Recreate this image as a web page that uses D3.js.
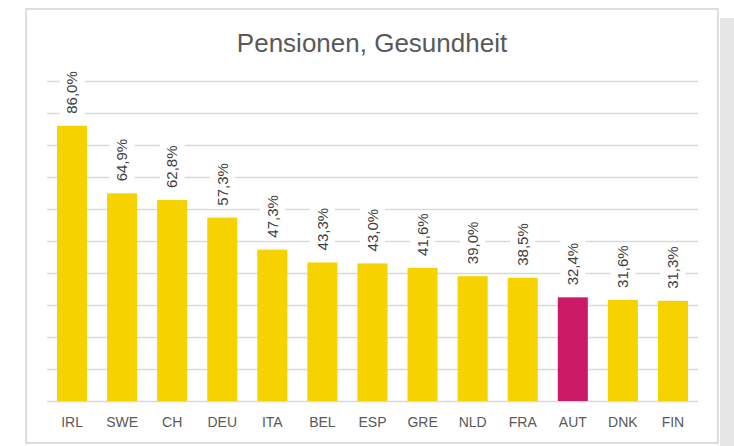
<!DOCTYPE html>
<html>
<head>
<meta charset="utf-8">
<script src="https://cdn.jsdelivr.net/npm/d3@7/dist/d3.min.js"></script>
<style>
  html, body { margin: 0; padding: 0; background: #ffffff; }
  svg { display: block; }
  text { font-family: "Liberation Sans", Arial, sans-serif; }
</style>
</head>
<body>
<svg id="chart" width="734" height="446"></svg>
<script>
const title = "Pensionen, Gesundheit";
const categories = ["IRL", "SWE", "CH", "DEU", "ITA", "BEL", "ESP", "GRE", "NLD", "FRA", "AUT", "DNK", "FIN"];
const values = [86.0, 64.9, 62.8, 57.3, 47.3, 43.3, 43.0, 41.6, 39.0, 38.5, 32.4, 31.6, 31.3];
const highlight = ["AUT"];
const gridTicks = [0, 10, 20, 30, 40, 50, 60, 70, 80, 90, 100];

const svg = d3.select("#chart");

// shadow + frame
svg.append("rect").attr("x", 720).attr("y", 18).attr("width", 14).attr("height", 428).attr("fill", "#e6e6e6");
svg.append("rect").attr("x", 26).attr("y", 9).attr("width", 692).attr("height", 434)
  .attr("fill", "#ffffff").attr("stroke", "#dedede").attr("stroke-width", 2);

const x = d3.scaleBand().domain(categories).range([47, 698]).paddingInner(0.4).paddingOuter(0.2);
const y = d3.scaleLinear().domain([0, 100]).range([401, 81]);

// gridlines
svg.append("g").selectAll("line").data(gridTicks).join("line")
  .attr("x1", 47).attr("x2", 698)
  .attr("y1", d => Math.round(y(d)) + 0.5).attr("y2", d => Math.round(y(d)) + 0.5)
  .attr("stroke", "#d9d9d9").attr("stroke-width", 1.3);

const data = categories.map((c, i) => ({ c, v: values[i] }));

// bars
svg.append("g").selectAll("rect").data(data).join("rect")
  .attr("x", d => x(d.c)).attr("width", x.bandwidth())
  .attr("y", d => y(d.v)).attr("height", d => y(0) - y(d.v))
  .attr("fill", d => highlight.includes(d.c) ? "#cc1a67" : "#f6d200");

// value labels (rotated) with white backgrounds
const fmt = v => v.toFixed(1).replace(".", ",") + "%";
const lg = svg.append("g");
data.forEach(d => {
  const cx = x(d.c) + x.bandwidth() / 2;
  const yb = y(d.v) - 12;
  const g = lg.append("g").attr("transform", `translate(${cx},${yb}) rotate(-90)`);
  const t = g.append("text").attr("x", 0).attr("y", 0).attr("dy", "0.35em")
    .attr("font-size", 15).attr("fill", "#404040").text(fmt(d.v));
  const w = t.node().getComputedTextLength();
  g.insert("rect", "text").attr("x", -3).attr("y", -12.5).attr("width", w + 6).attr("height", 25).attr("fill", "#ffffff");
});

// category axis labels
svg.append("g").selectAll("text").data(categories).join("text")
  .attr("x", d => x(d) + x.bandwidth() / 2).attr("y", 427)
  .attr("text-anchor", "middle").attr("font-size", 14).attr("fill", "#595959")
  .text(d => d);

// title
svg.append("text").attr("x", 372).attr("y", 52).attr("text-anchor", "middle")
  .attr("font-size", 26).attr("fill", "#595959")
  .text(title);
</script>
</body>
</html>
